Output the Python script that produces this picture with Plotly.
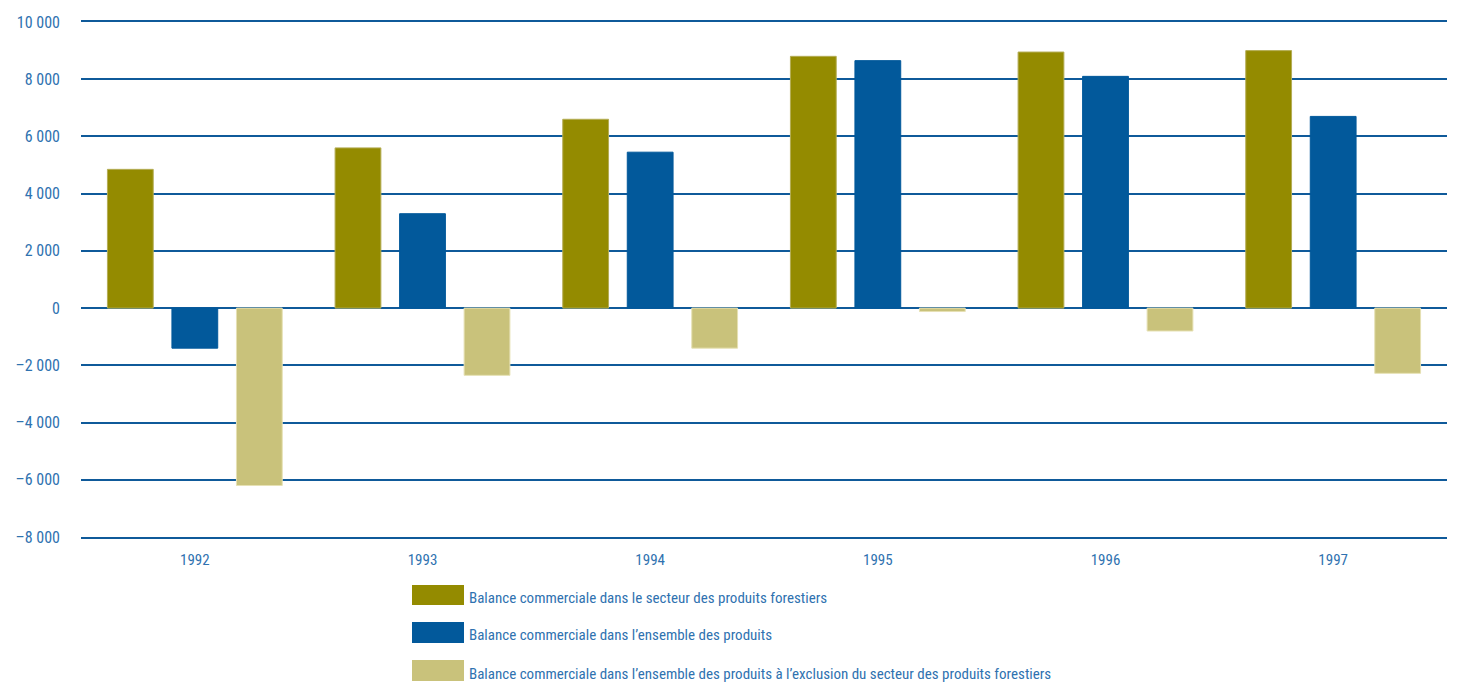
import plotly.graph_objects as go

# Trade balance by year (values in millions)
years = ["1992", "1993", "1994", "1995", "1996", "1997"]
forest_sector = [4850, 5600, 6600, 8800, 8950, 9000]
all_products = [-1400, 3300, 5450, 8650, 8100, 6700]
excl_forest = [-6200, -2350, -1400, -120, -800, -2280]

series_names = [
    "Balance commerciale dans le secteur des produits forestiers",
    "Balance commerciale dans l\u2019ensemble des produits",
    "Balance commerciale dans l\u2019ensemble des produits à l\u2019exclusion du secteur des produits forestiers",
]

y_ticks = [-8000, -6000, -4000, -2000, 0, 2000, 4000, 6000, 8000, 10000]
y_tick_text = ["\u20138 000", "\u20136 000", "\u20134 000", "\u20132 000", "0",
               "2 000", "4 000", "6 000", "8 000", "10 000"]

colors = ["#948b00", "#02599b", "#c9c27b"]
outlines = ["#b4ad55", "#02599b", "#e6e1b4"]
text_color = "#2f72b0"
grid_color = "#0f5a9a"
font_family = "Liberation Sans Narrow, Roboto Condensed, Arial Narrow, sans-serif"

fig = go.Figure()
for name, vals, c, oc in zip(series_names, [forest_sector, all_products, excl_forest], colors, outlines):
    fig.add_trace(go.Bar(
        x=years, y=vals, name=name,
        marker=dict(color=c, line=dict(color=oc, width=1)),
        showlegend=False,
    ))

fig.update_layout(
    width=1457, height=685,
    margin=dict(l=81, r=10, t=22, b=148),
    paper_bgcolor="white", plot_bgcolor="white",
    barmode="group", bargap=0.15, bargroupgap=0.29,
    font=dict(family=font_family, size=15, color=text_color),
    xaxis=dict(showgrid=False, zeroline=False,
               showline=True, mirror=True, linecolor=grid_color, linewidth=1.5,
               ticks="", tickfont=dict(size=15, color=text_color),
               ticklabelstandoff=8),
    yaxis=dict(range=[-8000, 10000], tickvals=y_ticks, ticktext=y_tick_text,
               showgrid=True, gridcolor=grid_color, gridwidth=1.5,
               zeroline=True, zerolinecolor=grid_color, zerolinewidth=2,
               showline=False, ticks="", ticklabelstandoff=20,
               tickfont=dict(size=16, color=text_color)),
)

# Legend: wide colour swatches with captions below the plot area
plot_h = 685 - 22 - 148
plot_w = 1457 - 81 - 10
legend_px = [(585, 605, 598), (622, 643, 635), (660, 681, 674)]
for name, c, (top, bot, mid) in zip(series_names, colors, legend_px):
    fig.add_shape(type="rect", xref="paper", yref="paper",
                  x0=(412 - 81) / plot_w, x1=(464 - 81) / plot_w,
                  y0=(537 - bot) / plot_h, y1=(537 - top) / plot_h,
                  line=dict(width=0), fillcolor=c)
    fig.add_annotation(xref="paper", yref="paper",
                       x=(467 - 81) / plot_w, y=(537 - mid) / plot_h,
                       xanchor="left", yanchor="middle", showarrow=False,
                       text=name, font=dict(size=15, color=text_color))

fig.write_html("out.html")
